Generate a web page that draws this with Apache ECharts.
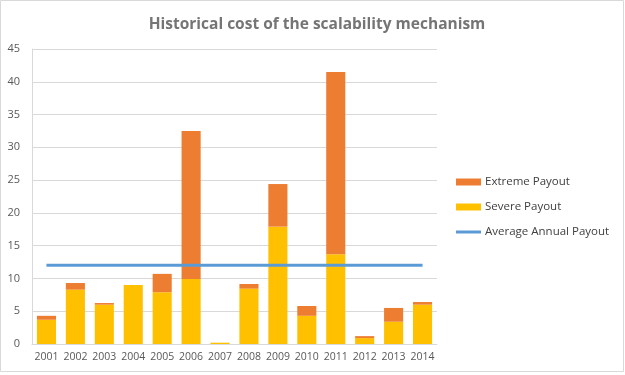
<!DOCTYPE html>
<html>
<head>
<meta charset="utf-8">
<script src="https://cdn.jsdelivr.net/npm/echarts@6/dist/echarts.min.js"></script>
<style>
html,body{margin:0;padding:0;background:#fff;}
#chart{width:625px;height:375px;}
</style>
</head>
<body>
<div id="chart"></div>
<script>
var years = ['2001','2002','2003','2004','2005','2006','2007','2008','2009','2010','2011','2012','2013','2014'];
var severePayout = [3.7, 8.3, 6.0, 9.0, 7.9, 9.9, 0.2, 8.45, 17.9, 4.3, 13.7, 0.9, 3.4, 6.0];
var extremePayout = [0.6, 1.0, 0.25, 0.0, 2.8, 22.6, 0.0, 0.7, 6.5, 1.5, 27.8, 0.3, 2.1, 0.4];
var averagePayout = [12, 12, 12, 12, 12, 12, 12, 12, 12, 12, 12, 12, 12, 12];

var chart = echarts.init(document.getElementById('chart'));
var font = 'Open Sans, Noto Sans, sans-serif';
chart.setOption({
  animation: false,
  title: {
    text: 'Historical cost of the scalability mechanism',
    left: 312, top: 12, textAlign: 'center',
    textStyle: {fontFamily: font, fontWeight: 'bold', fontSize: 15.5, color: '#757575'}
  },
  legend: {
    orient: 'vertical', left: 451, top: 171,
    itemWidth: 25, itemHeight: 7, itemGap: 13,
    textStyle: {fontFamily: font, fontSize: 11.5, color: '#404040', padding: [0,0,0,-1]},
    data: [
      {name: 'Extreme Payout', icon: 'rect'},
      {name: 'Severe Payout', icon: 'rect'},
      {name: 'Average Annual Payout', icon: 'path://M0,0 L25,0 L25,3 L0,3 Z'}
    ]
  },
  grid: {left: 32, right: 188, top: 49, bottom: 31},
  xAxis: {
    type: 'category', data: years, boundaryGap: true,
    axisLine: {lineStyle: {color: '#d9d9d9'}},
    axisTick: {show: false},
    axisLabel: {fontFamily: font, fontSize: 10.5, color: '#595959', margin: 8, interval: 0, hideOverlap: false}
  },
  yAxis: {
    type: 'value', min: 0, max: 45, interval: 5,
    axisLine: {show: true, lineStyle: {color: '#d9d9d9'}},
    axisLabel: {fontFamily: font, fontSize: 11, color: '#595959', margin: 12},
    splitLine: {lineStyle: {color: '#d9d9d9'}}
  },
  series: [
    {name: 'Severe Payout', type: 'bar', stack: 'p', data: severePayout,
     barCategoryGap: '34%', itemStyle: {color: '#FFC000'}},
    {name: 'Extreme Payout', type: 'bar', stack: 'p', data: extremePayout,
     itemStyle: {color: '#ED7D31'}},
    {name: 'Average Annual Payout', type: 'line', data: averagePayout,
     showSymbol: false, symbol: 'none', lineStyle: {color: '#5B9BD5', width: 3},
     itemStyle: {color: '#5B9BD5'}}
  ],
  graphic: [{
    type: 'rect', shape: {x: 0.5, y: 0.5, width: 623, height: 371},
    style: {fill: 'none', stroke: '#d9d9d9', lineWidth: 1}, silent: true
  }]
});
</script>
</body>
</html>
